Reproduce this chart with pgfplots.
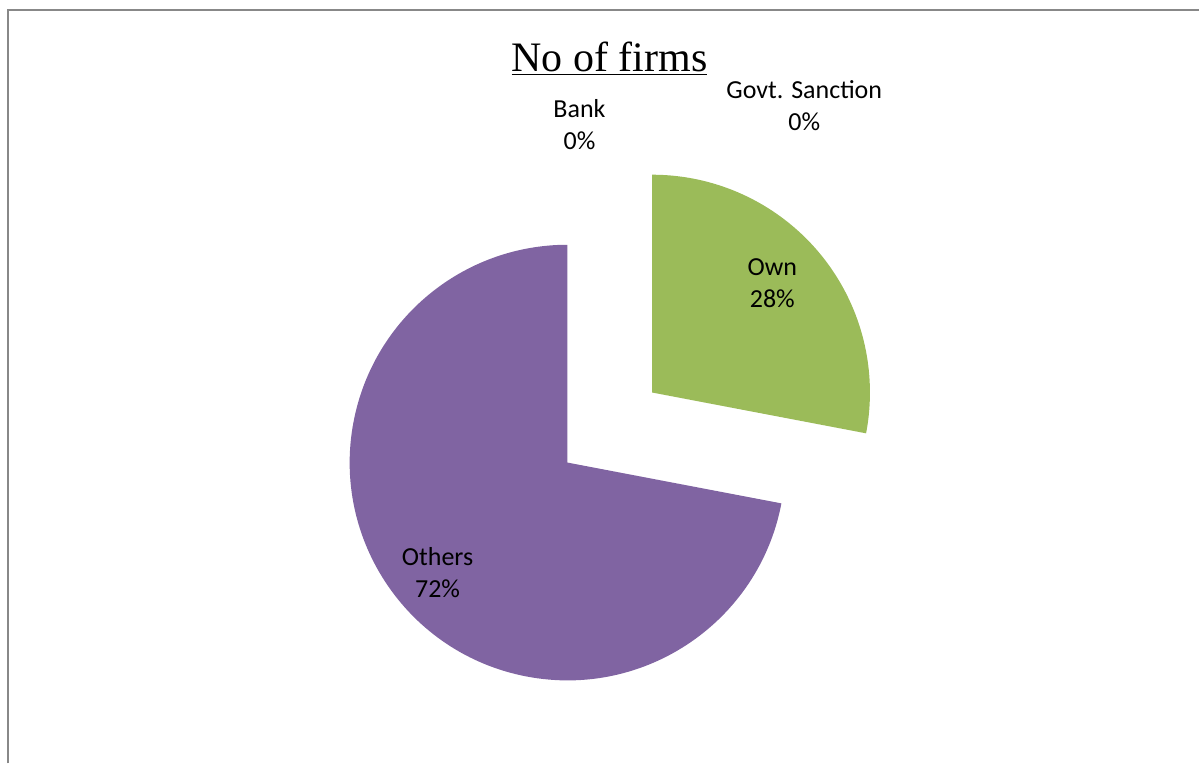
\documentclass[border=0pt]{standalone}
\usepackage{pgfplots}
\pgfplotsset{compat=1.18}
\usepackage{pgfplotstable}
\usepackage{fontspec}
\setmainfont{Carlito}
\newfontfamily\titlefont{Liberation Serif}

\definecolor{ownc}{HTML}{9BBB59}
\definecolor{othc}{HTML}{8064A2}
\definecolor{frame}{HTML}{888888}

% share of firms, percent, clockwise from 12 o'clock
\pgfplotstableread{
name value
Bank 0
Govt 0
Own 28
Others 72
}\firms

\begin{document}
\begin{tikzpicture}
\pgfplotstablegetelem{2}{value}\of\firms \let\vown\pgfplotsretval
\pgfplotstablegetelem{3}{value}\of\firms \let\voth\pgfplotsretval
\pgfmathsetmacro{\aown}{90-3.6*\vown}
\pgfmathsetmacro{\aoth}{\aown-3.6*\voth}
\pgfmathsetmacro{\amid}{(90+\aown)/2}
\begin{axis}[
    width=600pt, height=382pt, scale only axis,
    xmin=0, xmax=1200, ymin=0, ymax=764,
    hide axis, clip=false,
  ]
  % keep the whole page
  \path (axis cs:0,0) rectangle (axis cs:1200,764);
  % frame
  \draw[frame, line width=1.1pt] (axis cs:8,0) -- (axis cs:8,754) -- (axis cs:1200,754);
  % Others
  \fill[othc] (axis cs:568,301) -- ++(\aown:109pt)
    arc[start angle=\aown, end angle=\aoth, radius=109pt] -- cycle;
  % Own, pulled out
  \fill[ownc] (axis cs:568,301) ++(\amid:55pt) -- ++(90:109pt)
    arc[start angle=90, end angle=\aown, radius=109pt] -- cycle;
  % title and labels
  \node[font=\titlefont\fontsize{21}{24}\selectfont] at (axis cs:610,705) {\underline{No of firms}};
  \node[align=center, font=\fontsize{13}{16}\selectfont] at (axis cs:580,639) {Bank\\0\%};
  \node[align=center, font=\fontsize{13}{16}\selectfont] at (axis cs:805,658) {Govt. Sanction\\0\%};
  \node[align=center, font=\fontsize{13}{16}\selectfont] at (axis cs:773,481) {Own\\28\%};
  \node[align=center, font=\fontsize{13}{16}\selectfont] at (axis cs:438,191) {Others\\72\%};
\end{axis}
\end{tikzpicture}
\end{document}
